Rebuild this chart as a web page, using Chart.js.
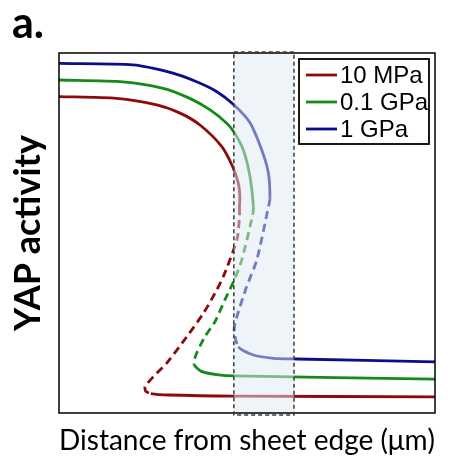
<!DOCTYPE html>
<html>
<head>
<meta charset="utf-8">
<script src="https://cdn.jsdelivr.net/npm/chart.js@4/dist/chart.umd.min.js"></script>
<style>
html,body{margin:0;padding:0;background:#fff;}
canvas{display:block;}
</style>
</head>
<body>
<canvas id="c" width="450" height="466"></canvas>
<script>
// ---- data (x: distance, arbitrary 0-100; y: YAP activity, arbitrary 0-100) ----
const seriesLabels = ['10 MPa', '0.1 GPa', '1 GPa'];
const seriesColors = ['#8c0a0a', '#168a16', '#0c0c8c'];

// 10 MPa
const redUpper = [[0,87.9],[15.3,87.4],[26.0,85.6],[32.2,83.3],[37.5,80.0],[43.3,74.0],[46.2,68.4],[47.7,63.8],[48.1,60.1],[48.0,57.2]];
const redDashed = [[48.0,54.5],[47.5,49.0],[46.6,45.8],[43.7,37.9],[41.5,33.3],[38.4,27.7],[34.0,21.2],[28.6,13.8],[25.1,10.1],[22.9,7.3],[23.1,6.0]];
const redLower = [[24.4,5.4],[29.1,5.0],[46.8,4.7],[100,4.5]];

// 0.1 GPa
const greenUpper = [[0,92.5],[17.0,92.0],[27.7,90.2],[34.8,87.4],[40.2,84.2],[44.6,80.5],[46.5,78.1],[49.0,73.1],[50.8,65.6],[51.7,57.3]];
const greenDashed = [[51.5,55.0],[48.6,42.5],[46.6,36.9],[44.1,31.4],[41.5,25.4],[38.8,21.2],[36.6,16.6],[36.0,14.7]];
const greenLower = [[36.0,13.3],[38.0,11.5],[42.4,10.6],[46.8,10.3],[100,9.4]];

// 1 GPa
const blueUpper = [[0,97.1],[19.7,96.7],[30.3,94.4],[36.6,92.0],[41.9,89.3],[46.5,85.6],[50.8,80.6],[53.9,73.1],[55.7,66.6],[56.1,59.6]];
const blueDashed = [[55.7,57.3],[52.6,42.5],[49.9,35.1],[47.3,26.7],[46.6,23.1]];
const blueLower = [[47.7,18.4],[51.7,16.1],[57.0,15.2],[63.2,15.0],[100,14.2]];

const xRange = [0, 100];
const yRange = [0, 100];
const bandRange = [46.5, 62.5]; // highlighted distance band

// ---- build datasets ----
function buildSeries(label, color, upper, dashed, lower) {
  const pts = upper.concat(dashed, lower).map(p => ({x: p[0], y: p[1]}));
  const dStart = upper.length - 1;
  const dEnd = upper.length + dashed.length - 1;
  return {
    label: label,
    data: pts,
    borderColor: color,
    backgroundColor: color,
    borderWidth: 2.8,
    pointRadius: 0,
    showLine: true,
    tension: 0.25,
    fill: false,
    segment: {
      borderDash: ctx => (ctx.p0DataIndex >= dStart && ctx.p0DataIndex <= dEnd) ? [8, 5] : undefined
    }
  };
}

const datasets = [
  buildSeries(seriesLabels[0], seriesColors[0], redUpper, redDashed, redLower),
  buildSeries(seriesLabels[1], seriesColors[1], greenUpper, greenDashed, greenLower),
  buildSeries(seriesLabels[2], seriesColors[2], blueUpper, blueDashed, blueLower)
];

const bgPlugin = {
  id: 'bg',
  beforeDraw(chart) {
    const c = chart.ctx;
    c.save();
    c.fillStyle = '#fff';
    c.fillRect(0, 0, chart.width, chart.height);
    c.restore();
  }
};

const overlayPlugin = {
  id: 'overlay',
  afterDatasetsDraw(chart) {
    const c = chart.ctx;
    const a = chart.chartArea;
    const xs = chart.scales.x;
    const x0 = xs.getPixelForValue(bandRange[0]);
    const x1 = xs.getPixelForValue(bandRange[1]);
    c.save();
    // band
    c.fillStyle = 'rgba(224,234,244,0.5)';
    c.fillRect(x0, a.top - 1, x1 - x0, a.bottom - a.top + 3);
    // frame
    c.strokeStyle = '#000';
    c.lineWidth = 1.5;
    c.setLineDash([]);
    c.strokeRect(a.left, a.top, a.right - a.left, a.bottom - a.top);
    // band border
    c.strokeStyle = '#3a3a3a';
    c.lineWidth = 1.5;
    c.setLineDash([4, 3]);
    c.strokeRect(x0, a.top - 1, x1 - x0, a.bottom - a.top + 3);
    c.setLineDash([]);
    // legend box
    const lw = 130, lh = 85;
    const lx = a.right - 136, ly = a.top + 6;
    c.fillStyle = '#fff';
    c.fillRect(lx, ly, lw, lh);
    c.strokeStyle = '#000';
    c.lineWidth = 1.8;
    c.strokeRect(lx, ly, lw, lh);
    c.font = '24px Arial, "Liberation Sans", sans-serif';
    c.textBaseline = 'middle';
    c.textAlign = 'left';
    chart.data.datasets.forEach((ds, i) => {
      const yy = ly + 16 + i * 27;
      c.strokeStyle = ds.borderColor;
      c.lineWidth = 2.8;
      c.beginPath();
      c.moveTo(lx + 7, yy);
      c.lineTo(lx + 38, yy);
      c.stroke();
      c.fillStyle = '#000';
      c.fillText(ds.label, lx + 41, yy + 1);
    });
    c.restore();
  }
};

new Chart(document.getElementById('c'), {
  type: 'scatter',
  data: { datasets: datasets },
  options: {
    responsive: false,
    animation: false,
    devicePixelRatio: 1,
    layout: { padding: { left: 12, right: 15, top: 0, bottom: 0 } },
    plugins: {
      legend: { display: false },
      tooltip: { enabled: false },
      title: {
        display: true,
        text: 'a.',
        align: 'start',
        color: '#000',
        font: { family: 'Lato, "Open Sans", sans-serif', size: 43, weight: 'bold', lineHeight: 1 },
        padding: { top: 3, bottom: 7 }
      }
    },
    scales: {
      x: {
        type: 'linear',
        min: xRange[0], max: xRange[1],
        grid: { display: false, drawTicks: false },
        border: { display: false },
        ticks: { display: false },
        title: {
          display: true,
          text: 'Distance from sheet edge (μm)',
          color: '#000',
          font: { family: 'Lato, "Open Sans", sans-serif', size: 29, lineHeight: 1 },
          padding: { top: 0, bottom: 11 }
        },
        afterFit(s) { s.height = 53; }
      },
      y: {
        type: 'linear',
        min: yRange[0], max: yRange[1],
        grid: { display: false, drawTicks: false },
        border: { display: false },
        ticks: { display: false },
        title: {
          display: true,
          text: 'YAP activity',
          color: '#000',
          font: { family: 'Lato, "Open Sans", sans-serif', size: 36, weight: 'bold', lineHeight: 0.9 },
          padding: { top: 0, bottom: 0 }
        },
        afterFit(s) { s.width = 47; }
      }
    }
  },
  plugins: [bgPlugin, overlayPlugin]
});
</script>
</body>
</html>
